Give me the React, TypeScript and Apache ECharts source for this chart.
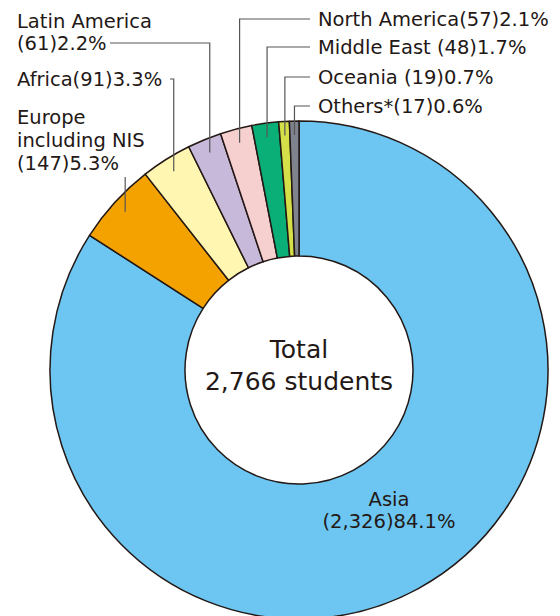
import { useEffect, useRef } from 'react';
import * as echarts from 'echarts';

const categories = ['Asia', 'Europe including NIS', 'Africa', 'Latin America', 'North America', 'Middle East', 'Oceania', 'Others*'];
const students = [2326, 147, 91, 61, 57, 48, 19, 17];
const colors = ['#6cc6f1', '#f3a200', '#fff7b1', '#c7b9d9', '#f6cfcf', '#0aae77', '#d5df47', '#7f838e'];
const centerTitle = 'Total';
const unitWord = 'students';

const CX = 299;
const CY = 370;
const R0 = 114;
const R1 = 249;
const ANCHOR_R = 235;
const INK = '#231815';
const LEADER = '#555555';
const FONT = '"DejaVu Sans", "Noto Sans", sans-serif';

type Layout = {
  lines: (name: string, cnt: string, pct: string) => string;
  x: number;
  yTop: number;
  lh: number;
  align: 'left' | 'center';
  leader?: { fromX: number; y: number } | { vertical: true; y: number };
};

const layouts: Layout[] = [
  { lines: (n, c, p) => `${n}\n(${c})${p}%`, x: 389, yTop: 488, lh: 22, align: 'center' },
  { lines: (n, c, p) => `Europe\nincluding NIS\n(${c})${p}%`, x: 17, yTop: 105.5, lh: 23, align: 'left', leader: { vertical: true, y: 177 } },
  { lines: (n, c, p) => `${n}(${c})${p}%`, x: 17, yTop: 68, lh: 23, align: 'left', leader: { fromX: 170, y: 79 } },
  { lines: (n, c, p) => `${n}\n(${c})${p}%`, x: 17, yTop: 10, lh: 22, align: 'left', leader: { fromX: 110, y: 43 } },
  { lines: (n, c, p) => `${n}(${c})${p}%`, x: 318, yTop: 8, lh: 23, align: 'left', leader: { fromX: 310, y: 19 } },
  { lines: (n, c, p) => `${n} (${c})${p}%`, x: 318, yTop: 36, lh: 23, align: 'left', leader: { fromX: 310, y: 47 } },
  { lines: (n, c, p) => `${n} (${c})${p}%`, x: 318, yTop: 66, lh: 23, align: 'left', leader: { fromX: 310, y: 77 } },
  { lines: (n, c, p) => `${n}(${c})${p}%`, x: 318, yTop: 95, lh: 23, align: 'left', leader: { fromX: 310, y: 106 } },
];

export default function App() {
  const ref = useRef<HTMLDivElement>(null);
  useEffect(() => {
    if (!ref.current) return;
    const chart = echarts.init(ref.current, null, { renderer: 'svg' });
    const total = students.reduce((a, b) => a + b, 0);
    const graphics: any[] = [];
    let cum = 0;
    students.forEach((v, i) => {
      const start = (cum / total) * 360;
      cum += v;
      const end = (cum / total) * 360;
      const mid = ((start + end) / 2) * Math.PI / 180;
      const ax = CX + ANCHOR_R * Math.sin(mid);
      const ay = CY - ANCHOR_R * Math.cos(mid);
      const L = layouts[i];
      const pct = ((v / total) * 100).toFixed(1);
      graphics.push({
        type: 'text',
        z: 100,
        style: {
          text: L.lines(categories[i], v.toLocaleString('en-US'), pct),
          x: L.x,
          y: L.yTop,
          font: `19.5px ${FONT}`,
          lineHeight: L.lh,
          fill: INK,
          align: L.align,
          verticalAlign: 'top',
        },
      });
      if (L.leader) {
        const pts = 'vertical' in L.leader
          ? [[ax, L.leader.y], [ax, ay]]
          : [[L.leader.fromX, L.leader.y], [ax, L.leader.y], [ax, ay]];
        graphics.push({
          type: 'polyline',
          z: 100,
          shape: { points: pts },
          style: { stroke: LEADER, lineWidth: 1.2, fill: null },
        });
      }
    });
    graphics.push({
      type: 'text',
      z: 100,
      style: {
        text: `${centerTitle}\n${total.toLocaleString('en-US')} ${unitWord}`,
        x: CX,
        y: 333,
        font: `25px ${FONT}`,
        lineHeight: 32,
        fill: INK,
        align: 'center',
        verticalAlign: 'top',
      },
    });
    chart.setOption({
      animation: false,
      backgroundColor: '#ffffff',
      series: [
        {
          type: 'pie',
          center: [CX, CY],
          radius: [R0, R1],
          startAngle: 90,
          clockwise: true,
          label: { show: false },
          labelLine: { show: false },
          emphasis: { disabled: true },
          itemStyle: { borderColor: INK, borderWidth: 1.5 },
          data: categories.map((c, i) => ({ name: c, value: students[i], itemStyle: { color: colors[i] } })),
        },
      ],
      graphic: graphics,
    });
    return () => chart.dispose();
  }, []);
  return <div ref={ref} style={{ position: 'fixed', left: 0, top: 0, width: 560, height: 616 }} />;
}
